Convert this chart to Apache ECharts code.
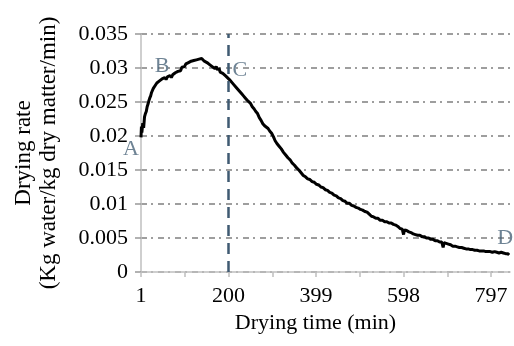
<!DOCTYPE html>
<html>
<head>
<meta charset="utf-8">
<script src="https://cdn.jsdelivr.net/npm/echarts@6/dist/echarts.min.js"></script>
<style>html,body{margin:0;padding:0;background:#fff;}#c{width:514px;height:346px;}</style>
</head>
<body>
<div id="c"></div>
<script>
// Drying time (min) vs drying rate (kg water / kg dry matter / min)
const dryingCurve = [
[1,0.0198],[2,0.0214],[3,0.0205],[5,0.0219],[7,0.0212],[9,0.0228],[11,0.0233],[13,0.0236],[15,0.0243],[17,0.0247],
[19,0.0252],[21,0.0256],[23,0.0259],[25,0.0264],[27,0.0266],[29,0.0270],[31,0.0272],[34,0.0275],[37,0.0278],[40,0.0277],
[43,0.0281],[46,0.0280],[49,0.0284],[52,0.0282],[55,0.0286],[58,0.0283],[61,0.0287],[64,0.0285],[67,0.0289],[70,0.0286],
[73,0.0290],[76,0.0289],[79,0.0293],[82,0.0291],[85,0.0295],[88,0.0297],[91,0.0296],[94,0.0301],[97,0.0303],[100,0.0302],
[103,0.0306],[106,0.0305],[109,0.0308],[112,0.0307],[115,0.0310],[118,0.0308],[121,0.0311],[124,0.0309],[127,0.0312],[130,0.0310],
[133,0.0313],[136,0.0311],[139,0.0314],[142,0.0312],[145,0.0310],[148,0.0312],[151,0.0308],[154,0.0309],[157,0.0305],[160,0.0306],
[163,0.0302],[166,0.0303],[169,0.0299],[172,0.0302],[175,0.0297],[178,0.0300],[181,0.0294],[184,0.0296],[187,0.0292],[190,0.0291],
[194,0.0288],[198,0.0286],[202,0.0283],[206,0.0281],[210,0.0277],[214,0.0275],[218,0.0271],[222,0.0269],[226,0.0265],[230,0.0262],
[234,0.0259],[238,0.0256],[242,0.0253],[246,0.0251],[250,0.0248],[254,0.0243],[258,0.0240],[262,0.0236],[266,0.0233],[270,0.0227],
[274,0.0223],[278,0.0218],[282,0.0215],[286,0.0213],[290,0.0211],[294,0.0207],[298,0.0204],[302,0.0199],[306,0.0193],[310,0.0189],
[315,0.0185],[320,0.0181],[325,0.0176],[330,0.0172],[335,0.0168],[340,0.0165],[345,0.0160],[350,0.0157],[355,0.0153],[360,0.0150],
[365,0.0146],[370,0.0142],[375,0.0140],[380,0.0137],[385,0.0136],[390,0.0133],[395,0.0132],[400,0.0129],[405,0.0128],[410,0.0125],
[415,0.0124],[420,0.0121],[425,0.0120],[430,0.0117],[435,0.0116],[440,0.0113],[445,0.0112],[450,0.0109],[455,0.0108],[460,0.0105],
[465,0.0104],[470,0.0101],[475,0.0101],[480,0.0098],[485,0.0097],[490,0.0095],[495,0.0094],[500,0.0092],[505,0.0091],[510,0.0089],
[515,0.0088],[520,0.0085],[525,0.0082],[530,0.0081],[535,0.0079],[540,0.0079],[545,0.0076],[550,0.0076],[555,0.0074],[560,0.0074],
[565,0.0072],[570,0.0072],[575,0.0070],[580,0.0069],[585,0.0067],[590,0.0064],[595,0.0063],[598,0.0055],[600,0.0062],[605,0.0061],
[610,0.0059],[615,0.0058],[620,0.0056],[625,0.0055],[630,0.0054],[635,0.0054],[640,0.0052],[645,0.0052],[650,0.0050],[655,0.0050],
[660,0.0048],[665,0.0048],[670,0.0046],[675,0.0046],[680,0.0044],[685,0.0044],[688,0.0036],[690,0.0043],[695,0.0042],[700,0.0041],
[705,0.0040],[710,0.0038],[715,0.0038],[720,0.0037],[725,0.0036],[730,0.0036],[735,0.0035],[740,0.0034],[745,0.0034],[750,0.0033],
[755,0.0033],[760,0.0032],[765,0.0032],[770,0.0031],[775,0.0031],[780,0.0031],[785,0.0030],[790,0.0030],[795,0.0030],[800,0.0029],
[805,0.0030],[810,0.0029],[815,0.0028],[820,0.0029],[825,0.0028],[830,0.0027],[835,0.0027],[838,0.0025]
];
const xTickLabels = [1, 200, 399, 598, 797];
const yTicks = [0, 0.005, 0.01, 0.015, 0.02, 0.025, 0.03, 0.035];
const stageMarkerTime = 200;
const stageNames = ['A', 'B', 'C', 'D'];
const stageTimes = [-22, 49, 226, 829];
const stageRates = [0.0181, 0.0303, 0.0297, 0.0049];

const serif = '"Liberation Serif", "Times New Roman", serif';
const chart = echarts.init(document.getElementById('c'), null, {renderer: 'canvas'});
chart.setOption({
  animation: false,
  backgroundColor: '#fff',
  grid: {left: 141, right: 4, top: 34, bottom: 74},
  xAxis: {
    type: 'value', min: 1, max: 840, interval: 99.5,
    name: 'Drying time (min)', nameLocation: 'middle', nameGap: 37,
    nameTextStyle: {fontFamily: serif, fontSize: 22, color: '#000', padding: [0, 20, 0, 0]},
    axisLine: {show: true, lineStyle: {color: '#bfbfbf', width: 1.5}},
    axisTick: {show: true, length: 5, lineStyle: {color: '#bfbfbf', width: 1.5}},
    axisLabel: {
      fontFamily: serif, fontSize: 22, color: '#000', margin: 13,
      showMaxLabel: false,
      formatter: v => xTickLabels.includes(Math.round(v)) ? String(Math.round(v)) : ''
    },
    splitLine: {show: false}
  },
  yAxis: {
    type: 'value', min: yTicks[0], max: yTicks[yTicks.length - 1], interval: 0.005,
    name: 'Drying rate\n(Kg water/kg dry matter/min)', nameLocation: 'middle', nameGap: 80,
    nameTextStyle: {fontFamily: serif, fontSize: 23, lineHeight: 25, color: '#000'},
    axisLine: {show: true, lineStyle: {color: '#bfbfbf', width: 1.5}},
    axisTick: {show: true, length: 6, lineStyle: {color: '#999', width: 1.5}},
    axisLabel: {fontFamily: serif, fontSize: 22, color: '#000', margin: 13,
      formatter: v => String(parseFloat(v.toFixed(3)))},
    splitLine: {show: true, lineStyle: {color: '#7f7f7f', width: 1.5, type: [6, 4, 2, 5]}}
  },
  series: [
    {
      type: 'line',
      data: dryingCurve,
      showSymbol: false,
      lineStyle: {color: '#000', width: 3},
      z: 3,
      markLine: {
        silent: true, symbol: 'none',
        label: {show: false},
        lineStyle: {color: '#3f5a72', width: 2.5, type: [11, 7]},
        data: [{xAxis: stageMarkerTime}]
      }
    },
    {
      type: 'scatter',
      clip: false,
      symbolSize: 0,
      data: stageNames.map((n, i) => ({name: n, value: [stageTimes[i], stageRates[i]]})),
      label: {show: true, position: 'inside', formatter: p => p.name,
        fontFamily: serif, fontSize: 22, color: '#4a6479'},
      z: 4
    }
  ]
});
</script>
</body>
</html>
